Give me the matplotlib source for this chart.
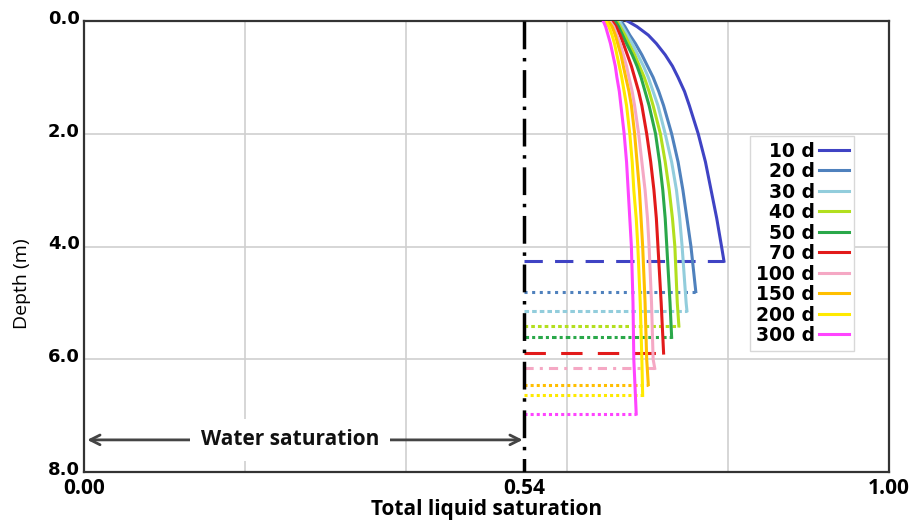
import matplotlib
matplotlib.use("Agg")
import matplotlib.pyplot as plt
import matplotlib.transforms as mtransforms
from matplotlib.lines import Line2D

# -----------------------
# DATA
# -----------------------
labels = ['10 d', '20 d', '30 d', '40 d', '50 d', '70 d', '100 d', '150 d', '200 d', '300 d']
colors = ['#3f43c4', '#4f81bd', '#92cddc', '#b2df1e', '#2aa84a',
          '#e21a1a', '#f5a8c4', '#ffbf00', '#ffea00', '#ff44ff']

# depth stations (m) shared by all profiles
depth_pts = [0.0, 0.1, 0.25, 0.4, 0.6, 0.8, 1.0, 1.25, 1.5, 2.0, 2.5, 3.0, 3.5, 4.0, 5.0, 6.0]

# saturation at each station, down to the wetting front
sat_10d = [0.675, 0.687, 0.701, 0.711, 0.722, 0.731, 0.738, 0.746, 0.752, 0.763,
           0.772, 0.779, 0.786, 0.792]
sat_20d = [0.667, 0.672, 0.678, 0.685, 0.693, 0.700, 0.707, 0.714, 0.720, 0.730,
           0.738, 0.744, 0.749, 0.754]
sat_30d = [0.665, 0.669, 0.675, 0.681, 0.688, 0.695, 0.701, 0.707, 0.713, 0.722,
           0.730, 0.736, 0.740, 0.743, 0.748]
sat_40d = [0.662, 0.666, 0.672, 0.677, 0.684, 0.690, 0.696, 0.702, 0.707, 0.716,
           0.722, 0.727, 0.731, 0.734, 0.737]
sat_50d = [0.660, 0.664, 0.669, 0.674, 0.681, 0.687, 0.692, 0.697, 0.702, 0.710,
           0.715, 0.719, 0.722, 0.724, 0.728]
sat_70d = [0.656, 0.661, 0.666, 0.670, 0.675, 0.680, 0.684, 0.689, 0.693, 0.699,
           0.704, 0.708, 0.711, 0.713, 0.717]
sat_100d = [0.653, 0.658, 0.662, 0.666, 0.670, 0.674, 0.677, 0.681, 0.684, 0.689,
            0.693, 0.697, 0.700, 0.702, 0.705, 0.707]
sat_150d = [0.651, 0.656, 0.660, 0.663, 0.667, 0.670, 0.673, 0.677, 0.680, 0.684,
            0.687, 0.690, 0.692, 0.694, 0.697, 0.699]
sat_200d = [0.648, 0.652, 0.656, 0.659, 0.662, 0.665, 0.668, 0.671, 0.674, 0.678,
            0.681, 0.683, 0.686, 0.688, 0.691, 0.693]
sat_300d = [0.645, 0.648, 0.651, 0.654, 0.657, 0.660, 0.662, 0.665, 0.667, 0.671,
            0.674, 0.676, 0.678, 0.680, 0.682, 0.683]
profiles = [sat_10d, sat_20d, sat_30d, sat_40d, sat_50d,
            sat_70d, sat_100d, sat_150d, sat_200d, sat_300d]

# wetting front depth and saturation just above it
front_depth = [4.26, 4.80, 5.14, 5.41, 5.61, 5.89, 6.16, 6.45, 6.64, 6.97]
front_sat = [0.795, 0.760, 0.749, 0.739, 0.730, 0.720, 0.709, 0.701, 0.694, 0.686]

water_sat = 0.547          # initial water saturation line
arrow_depth = 7.43

xtick_vals = [0.0, water_sat, 1.0]
xtick_labels = ['0.00', '0.54', '1.00']
ytick_vals = [0, 2, 4, 6, 8]
ytick_labels = ['0.0', '2.0', '4.0', '6.0', '8.0']

front_styles = [(0, (6, 4)), (0, (1, 1.5)), (0, (1.5, 1)), (0, (1.2, 1)),
                (0, (1.5, 1, 1, 1)), (0, (7, 5)), (0, (3, 2, 1, 2)),
                (0, (1, 1)), (0, (1, 1)), (0, (1, 1))]

# -----------------------
# PLOT
# -----------------------
fig = plt.figure(figsize=(9.22, 5.21), dpi=100)
ax = fig.add_axes([0.0911, 0.094, 0.8731, 0.8657])

ax.set_xlim(0, 1)
ax.set_ylim(8, 0)

for v in [0.2, 0.4, 0.6, 0.8]:
    ax.axvline(v, color='#cfcfcf', lw=1.2, zorder=0)
for v in [2, 4, 6]:
    ax.axhline(v, color='#cfcfcf', lw=1.2, zorder=0)

# wetting front lines
for i in range(len(labels)):
    ax.plot([water_sat, front_sat[i]], [front_depth[i], front_depth[i]],
            color=colors[i], lw=2.2, linestyle=front_styles[i], zorder=2)

# saturation profiles
for i in range(len(labels)):
    n = len(profiles[i])
    d = depth_pts[:n] + [front_depth[i]]
    s = profiles[i] + [front_sat[i]]
    ax.plot(s, d, color=colors[i], lw=2.2, zorder=3, solid_joinstyle='round')

# water saturation line
ax.plot([water_sat, water_sat], [0, 8], color='black', lw=2.5,
        linestyle=(0, (8, 2.5, 1, 2.5)), zorder=4)

# double arrow + label
ax.annotate('', xy=(0.004, arrow_depth), xytext=(water_sat - 0.002, arrow_depth),
            arrowprops=dict(arrowstyle='<->,head_length=0.7,head_width=0.35',
                            color='#444444', lw=2, shrinkA=0, shrinkB=0), zorder=4)
ax.text(0.256, arrow_depth, 'Water saturation', ha='center', va='center',
        fontsize=15, fontweight='bold', family='Open Sans', color='#111111',
        bbox=dict(boxstyle='square,pad=0.5', fc='white', ec='none'), zorder=5)

ax.set_xticks(xtick_vals)
ax.set_xticklabels(xtick_labels, fontsize=15, fontweight='bold', family='Open Sans')
ax.set_yticks(ytick_vals)
ax.set_yticklabels(ytick_labels, fontsize=13, fontweight='bold', family='DejaVu Sans')
ax.tick_params(length=0, pad=3)
ax.tick_params(axis='x', pad=4)

# y labels sit a little above their gridline in the reference
shift_up = mtransforms.ScaledTranslation(0, 3 / 72, fig.dpi_scale_trans)
for lab in ax.get_yticklabels():
    lab.set_transform(lab.get_transform() + shift_up)

for sp in ax.spines.values():
    sp.set_color('#333333')
    sp.set_linewidth(1.6)

ax.set_xlabel('Total liquid saturation', fontsize=15, fontweight='bold',
              family='Open Sans', labelpad=0)
fig.text(0.024, 1 - 284 / 521, 'Depth (m)', rotation=90, ha='center', va='center',
         fontsize=14, family='Open Sans')

handles = [Line2D([0], [0], color=c, lw=2.2) for c in colors]
leg = ax.legend(handles, labels, loc='upper left', bbox_to_anchor=(0.816, 0.766),
                markerfirst=False, handlelength=1.6, handletextpad=0.2,
                labelspacing=0.08, borderpad=0.3, fancybox=False, framealpha=1,
                prop={'weight': 'bold', 'size': 13.5, 'family': 'DejaVu Sans'})
leg.get_frame().set_edgecolor('#d8d8d8')
leg.get_frame().set_linewidth(1.0)

fig.savefig('out.png', dpi=100)
